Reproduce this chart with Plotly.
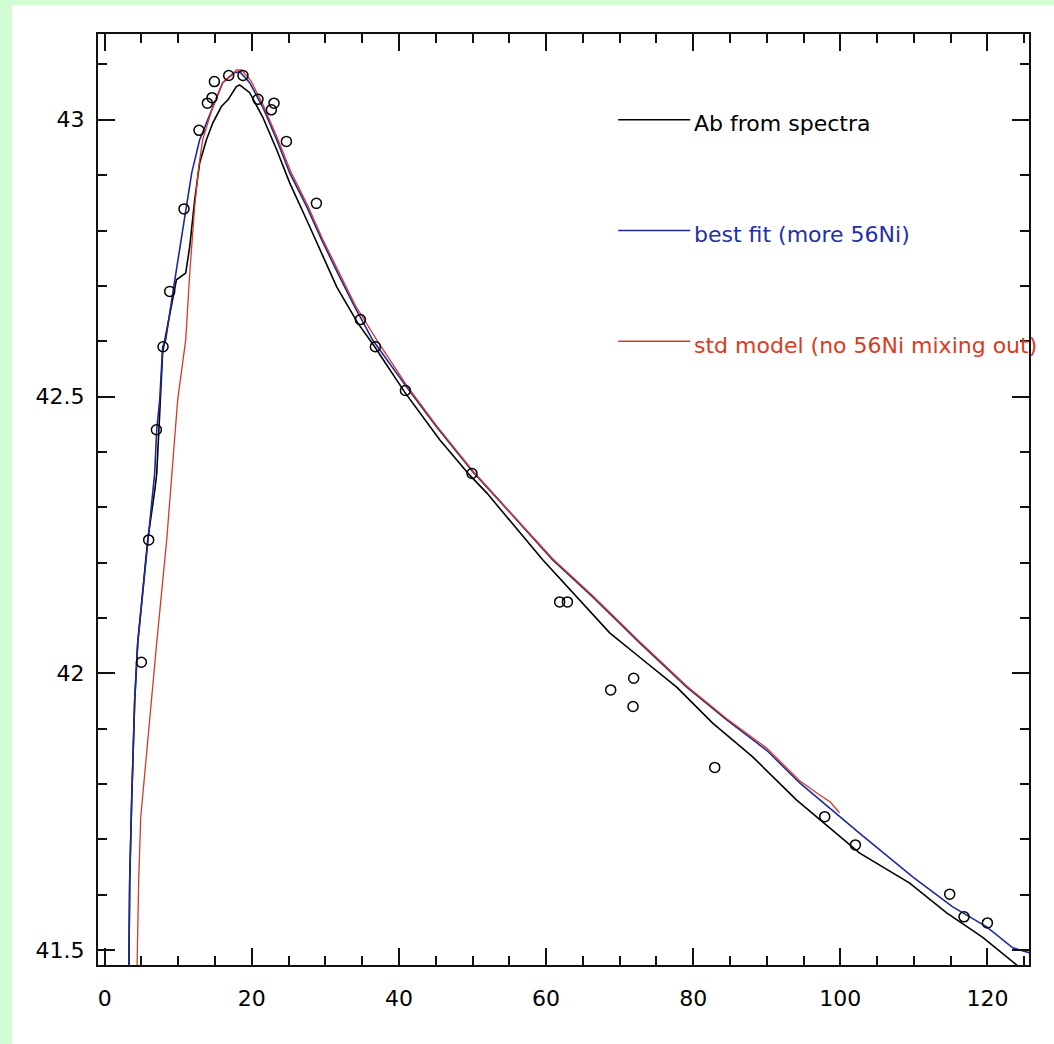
import plotly.graph_objects as go

# Observed luminosity points (day, log L)
obs_day = [4.99, 5.98, 7.03, 7.93, 8.84, 10.78, 12.82, 13.96, 14.59, 14.91, 16.86, 18.80,
           20.84, 22.66, 23.02, 24.70, 28.78, 34.76, 36.80, 40.88, 49.93, 61.85, 62.90,
           68.79, 71.91, 71.82, 82.93, 97.88, 102.05, 114.87, 116.82, 120.00]
obs_logl = [42.020, 42.241, 42.440, 42.590, 42.690, 42.839, 42.981, 43.030, 43.040, 43.069,
            43.080, 43.080, 43.037, 43.018, 43.030, 42.961, 42.849, 42.639, 42.590, 42.511,
            42.361, 42.129, 42.129, 41.970, 41.991, 41.940, 41.830, 41.741, 41.690, 41.601,
            41.560, 41.549]

# Model: abundances from spectra
ab_day = [3.2, 3.4, 3.67, 4.08, 4.49, 5.85, 6.8, 7.07, 7.48, 7.88, 8.29, 9.0, 9.75, 11.01,
          11.56, 12.23, 12.91, 13.83, 14.72, 15.86, 16.76, 17.90, 18.35, 19.71, 21.48, 23.38,
          25.15, 27.46, 29.50, 31.54, 34.39, 36.70, 40.78, 45.54, 49.62, 51.93, 59.54, 64.17,
          68.65, 72.73, 77.76, 82.65, 88.09, 94.07, 102.64, 109.43, 114.46, 119.36, 123.98, 125.0]
ab_logl = [41.35, 41.626, 41.771, 41.952, 42.055, 42.241, 42.33, 42.36, 42.47, 42.58, 42.61,
           42.66, 42.711, 42.723, 42.771, 42.855, 42.922, 42.964, 42.995, 43.024, 43.036,
           43.060, 43.063, 43.049, 43.005, 42.946, 42.886, 42.819, 42.760, 42.698, 42.633,
           42.590, 42.508, 42.422, 42.358, 42.326, 42.205, 42.138, 42.073, 42.029, 41.975,
           41.910, 41.849, 41.771, 41.675, 41.621, 41.567, 41.523, 41.473, 41.455]

# Model: best fit (more 56Ni)
best_day = [3.2, 3.4, 3.67, 4.08, 4.49, 5.85, 6.8, 7.07, 7.48, 7.88, 8.29, 9.38, 10.47, 11.83,
            12.91, 14.68, 16.04, 17.67, 18.35, 19.71, 21.48, 23.38, 25.15, 27.46, 29.50, 31.68,
            33.99, 36.43, 41.05, 45.13, 50.03, 53.29, 60.90, 66.34, 72.73, 79.12, 84.56, 89.99,
            94.48, 102.64, 109.84, 115.28, 119.90, 123.44, 125.75]
best_logl = [41.35, 41.626, 41.771, 41.952, 42.055, 42.241, 42.362, 42.44, 42.494, 42.59,
             42.602, 42.698, 42.789, 42.904, 42.964, 43.023, 43.067, 43.085, 43.087, 43.067,
             43.023, 42.964, 42.904, 42.843, 42.783, 42.723, 42.662, 42.602, 42.517, 42.445,
             42.364, 42.317, 42.205, 42.138, 42.055, 41.975, 41.916, 41.861, 41.802, 41.711,
             41.632, 41.578, 41.542, 41.504, 41.495]

# Model: standard (no 56Ni mixing out)
std_day = [4.3, 4.62, 4.9, 5.3, 6.4, 7.07, 8.43, 9.92, 11.01, 11.56, 12.23, 12.78, 13.32,
           14.68, 16.04, 17.94, 18.6, 19.9, 21.6, 23.5, 25.3, 27.6, 29.6, 31.8, 34.1, 37.0,
           41.05, 45.13, 50.03, 53.29, 60.90, 66.34, 72.73, 79.12, 84.56, 89.99, 94.48, 97.0,
           98.6, 99.9]
std_logl = [41.40, 41.626, 41.74, 41.80, 41.952, 42.055, 42.241, 42.494, 42.602, 42.723,
            42.843, 42.915, 42.964, 43.023, 43.067, 43.090, 43.09, 43.07, 43.025, 42.966,
            42.906, 42.845, 42.785, 42.725, 42.664, 42.602, 42.52, 42.447, 42.366, 42.318,
            42.207, 42.14, 42.057, 41.977, 41.918, 41.865, 41.806, 41.782, 41.768, 41.748]

labels = ["Ab from spectra", "best fit (more 56Ni)", "std model (no 56Ni mixing out)"]
colors = ["#000000", "#1c2a9c", "#d23a2c"]
text_colors = ["#000000", "#1f2fa8", "#d83a22"]

FONT = "DejaVu Sans"
GREEN = "#d2fcd2"

fig = go.Figure()

fig.add_trace(go.Scatter(x=ab_day, y=ab_logl, mode="lines",
                         line=dict(color=colors[0], width=1.6), showlegend=False))
fig.add_trace(go.Scatter(x=best_day, y=best_logl, mode="lines",
                         line=dict(color=colors[1], width=1.6), showlegend=False))
fig.add_trace(go.Scatter(x=std_day, y=std_logl, mode="lines",
                         line=dict(color=colors[2], width=1.3), showlegend=False))
fig.add_trace(go.Scatter(x=obs_day, y=obs_logl, mode="markers",
                         marker=dict(symbol="circle-open", size=10, color="black",
                                     line=dict(width=1.5, color="black")),
                         showlegend=False))

# Inline key: short line segment followed by coloured label
key_levels = [43.0, 42.8, 42.6]
for lab, col, tcol, yv in zip(labels, colors, text_colors, key_levels):
    fig.add_shape(type="line", xref="x", yref="y", x0=69.8, x1=79.6, y0=yv, y1=yv,
                  line=dict(color=col, width=1.5))
    fig.add_annotation(x=79.8, y=yv, xref="x", yref="y", text=lab, showarrow=False,
                       xanchor="left", yanchor="middle", yshift=-4,
                       font=dict(family=FONT, size=22, color=tcol))

# White page panel over the green frame
fig.add_shape(type="rect", xref="paper", yref="paper", x0=-0.0924, x1=1.05,
              y0=-0.12, y1=1.0311, fillcolor="white", line=dict(width=0), layer="below")

axis_common = dict(showgrid=False, zeroline=False, showline=True, linecolor="#111111",
                   linewidth=2, ticks="inside", tickwidth=2, tickcolor="#111111",
                   mirror="allticks", tickfont=dict(family=FONT, size=22, color="black"))

fig.update_xaxes(range=[-0.91, 125.65], tick0=0, dtick=20, ticklen=17,
                 minor=dict(dtick=5, tick0=0, ticklen=9, tickwidth=2, ticks="inside",
                            tickcolor="#111111"),
                 ticklabelstandoff=13, **axis_common)
fig.update_yaxes(range=[41.473, 43.155], tick0=41.5, dtick=0.5, ticklen=17,
                 minor=dict(dtick=0.1, tick0=41.5, ticklen=9, tickwidth=2, ticks="inside",
                            tickcolor="#111111"),
                 ticklabelstandoff=7, **axis_common)

fig.update_layout(width=1054, height=1044, margin=dict(l=98, r=25, t=34, b=79),
                  paper_bgcolor=GREEN, plot_bgcolor="white", showlegend=False)

fig.write_html("out.html")
